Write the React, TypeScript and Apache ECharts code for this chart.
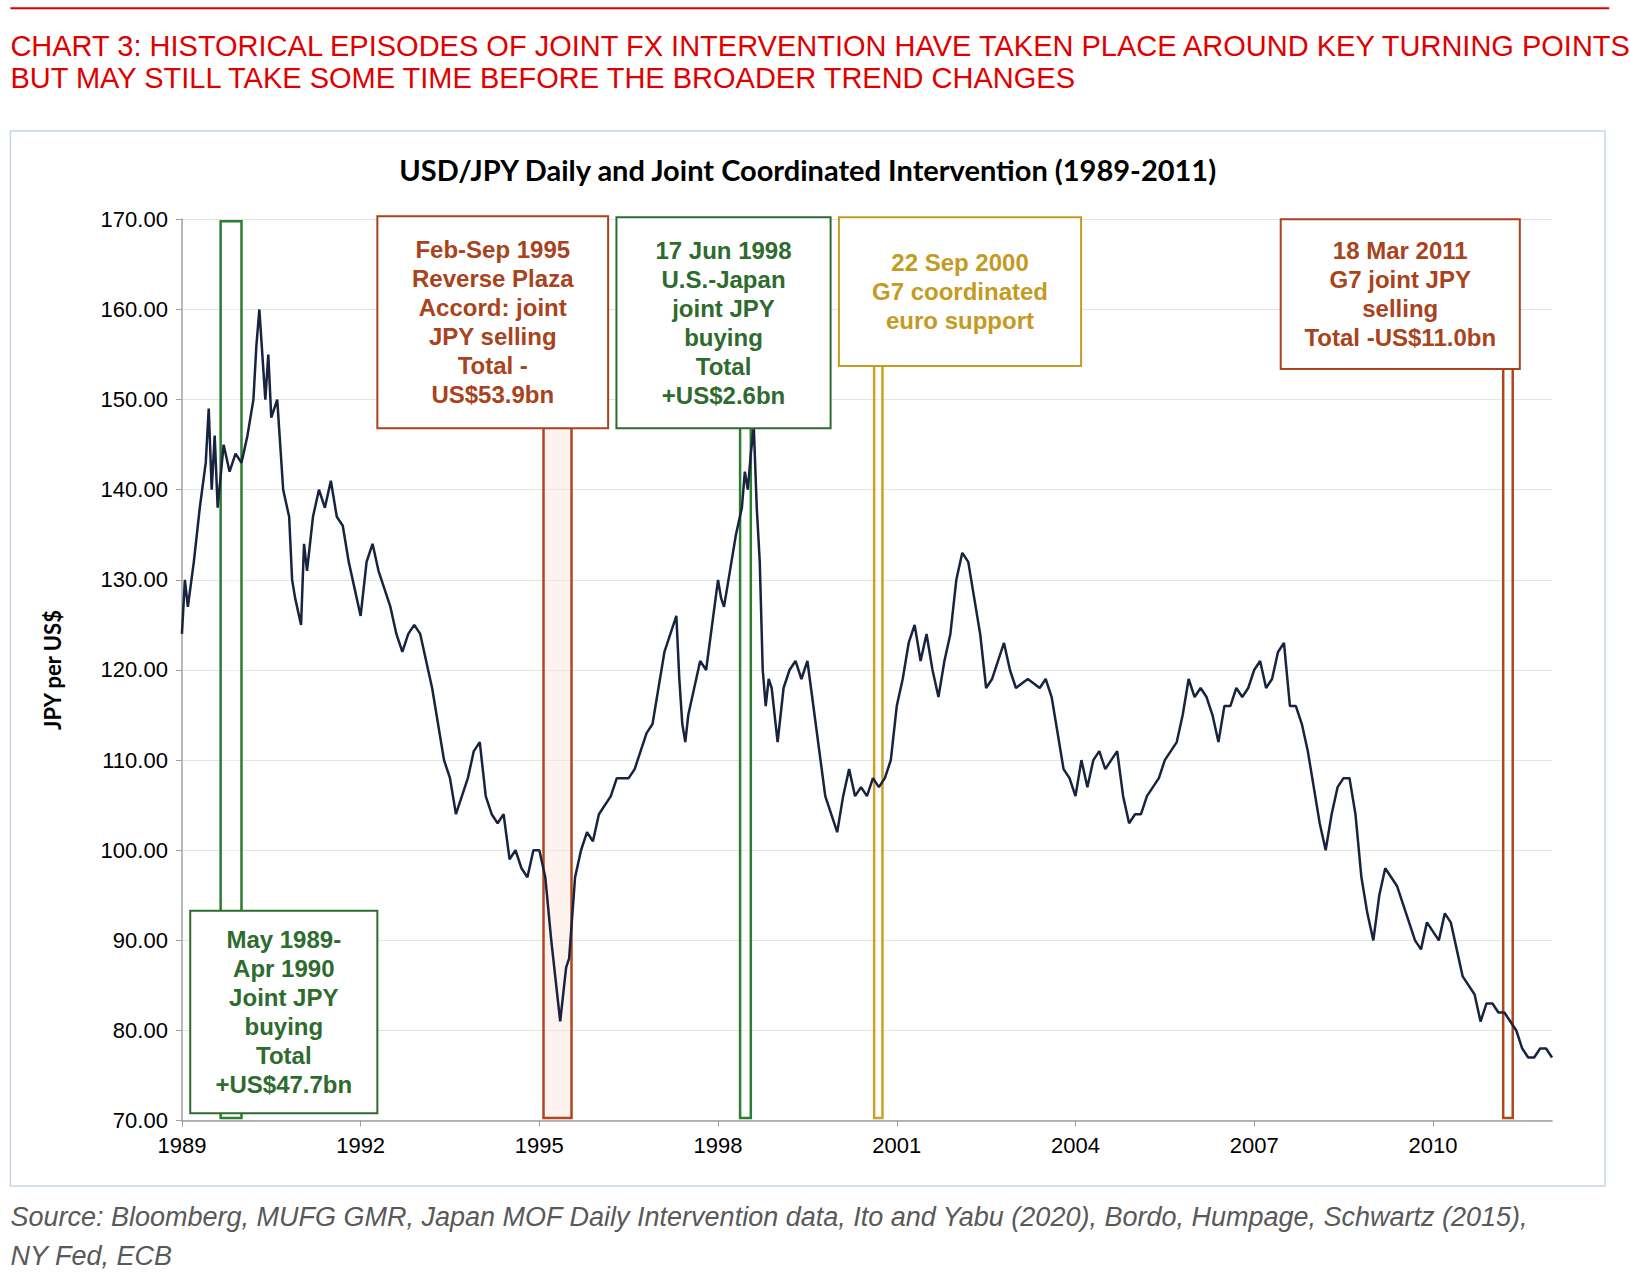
import React, { useEffect, useRef } from 'react';
import * as echarts from 'echarts';

// decimal year, JPY per USD
const years = [
  1989.0, 1989.05, 1989.1, 1989.2, 1989.3, 1989.4, 1989.45, 1989.5, 1989.55, 1989.6, 1989.7, 1989.8, 1989.9,
  1990.0, 1990.1, 1990.2, 1990.25, 1990.3, 1990.35, 1990.4, 1990.45, 1990.5, 1990.6, 1990.7, 1990.8, 1990.85, 1990.9,
  1991.0, 1991.05, 1991.1, 1991.2, 1991.3, 1991.4, 1991.5, 1991.6, 1991.7, 1991.8, 1991.9,
  1992.0, 1992.1, 1992.2, 1992.3, 1992.4, 1992.5, 1992.6, 1992.7, 1992.8, 1992.9,
  1993.0, 1993.2, 1993.4, 1993.5, 1993.6, 1993.7, 1993.8, 1993.9,
  1994.0, 1994.1, 1994.2, 1994.3, 1994.4, 1994.5, 1994.6, 1994.7, 1994.8, 1994.9,
  1995.0, 1995.1, 1995.2, 1995.3, 1995.35, 1995.4, 1995.45, 1995.5, 1995.6, 1995.7, 1995.8, 1995.9,
  1996.0, 1996.2, 1996.3, 1996.5, 1996.6, 1996.7, 1996.8, 1996.9,
  1997.0, 1997.1, 1997.2, 1997.3, 1997.35, 1997.4, 1997.45, 1997.5, 1997.6, 1997.7, 1997.8, 1997.9,
  1998.0, 1998.05, 1998.1, 1998.2, 1998.3, 1998.4, 1998.45, 1998.5, 1998.55, 1998.6, 1998.65, 1998.7, 1998.75, 1998.8, 1998.85, 1998.9,
  1999.0, 1999.1, 1999.2, 1999.3, 1999.4, 1999.5, 1999.6, 1999.7, 1999.8, 1999.9,
  2000.0, 2000.1, 2000.2, 2000.3, 2000.4, 2000.5, 2000.6, 2000.7, 2000.8, 2000.9,
  2001.0, 2001.1, 2001.2, 2001.3, 2001.4, 2001.5, 2001.6, 2001.7, 2001.8, 2001.9,
  2002.0, 2002.1, 2002.2, 2002.3, 2002.4, 2002.5, 2002.6, 2002.7, 2002.8, 2002.9,
  2003.0, 2003.2, 2003.4, 2003.5, 2003.6, 2003.7, 2003.8, 2003.9,
  2004.0, 2004.1, 2004.2, 2004.3, 2004.4, 2004.5, 2004.6, 2004.7, 2004.8, 2004.9,
  2005.0, 2005.1, 2005.2, 2005.3, 2005.4, 2005.5, 2005.6, 2005.7, 2005.8, 2005.9,
  2006.0, 2006.1, 2006.2, 2006.3, 2006.4, 2006.5, 2006.6, 2006.7, 2006.8, 2006.9,
  2007.0, 2007.1, 2007.2, 2007.3, 2007.4, 2007.5, 2007.6, 2007.7, 2007.8, 2007.9,
  2008.0, 2008.1, 2008.2, 2008.3, 2008.4, 2008.5, 2008.6, 2008.7, 2008.8, 2008.9,
  2009.0, 2009.1, 2009.2, 2009.3, 2009.4, 2009.5, 2009.6, 2009.7, 2009.8, 2009.9,
  2010.0, 2010.1, 2010.2, 2010.3, 2010.4, 2010.5, 2010.6, 2010.7, 2010.8, 2010.9,
  2011.0, 2011.1, 2011.2, 2011.3, 2011.4, 2011.5, 2011.6, 2011.7, 2011.8, 2011.9, 2012.0,
];
const usdjpy = [
  124, 130, 127, 132, 138, 143, 149, 140, 146, 138, 145, 142, 144,
  143, 146, 150, 156, 160, 155, 150, 155, 148, 150, 140, 137, 130, 128,
  125, 134, 131, 137, 140, 138, 141, 137, 136, 132, 129,
  126, 132, 134, 131, 129, 127, 124, 122, 124, 125,
  124, 118, 110, 108, 104, 106, 108, 111,
  112, 106, 104, 103, 104, 99, 100, 98, 97, 100,
  100, 97, 90, 84, 81, 84, 87, 88, 97, 100, 102, 101,
  104, 106, 108, 108, 109, 111, 113, 114,
  118, 122, 124, 126, 119, 114, 112, 115, 118, 121, 120, 125,
  130, 128, 127, 131, 135, 138, 142, 140, 144, 147, 138, 132, 120, 116, 119, 118,
  112, 118, 120, 121, 119, 121, 116, 111, 106, 104,
  102, 106, 109, 106, 107, 106, 108, 107, 108, 110,
  116, 119, 123, 125, 121, 124, 120, 117, 121, 124,
  130, 133, 132, 128, 124, 118, 119, 121, 123, 120,
  118, 119, 118, 119, 117, 113, 109, 108,
  106, 110, 107, 110, 111, 109, 110, 111, 106, 103,
  104, 104, 106, 107, 108, 110, 111, 112, 115, 119,
  117, 118, 117, 115, 112, 116, 116, 118, 117, 118,
  120, 121, 118, 119, 122, 123, 116, 116, 114, 111,
  107, 103, 100, 104, 107, 108, 108, 104, 97, 93,
  90, 95, 98, 97, 96, 94, 92, 90, 89, 92,
  91, 90, 93, 92, 89, 86, 85, 84, 81, 83,
  83, 82, 82, 81, 80, 78, 77, 77, 78, 78, 77,
];
const yTicks = [70, 80, 90, 100, 110, 120, 130, 140, 150, 160, 170];

// intervention windows [start, end, border, fill]
const episodes: [number, number, string, string][] = [
  [1989.65, 1990.0, '#2e7d32', 'rgba(255,255,255,0.35)'],
  [1995.07, 1995.54, '#b0461e', 'rgba(253,232,226,0.55)'],
  [1998.37, 1998.55, '#2e7d32', 'rgba(255,255,255,0.35)'],
  [2000.62, 2000.76, '#c9a227', 'rgba(255,255,255,0.35)'],
  [2011.18, 2011.34, '#b0461e', 'rgba(255,255,255,0.35)'],
];

const notes: { x: number; y: number; w: number; h: number; color: string; lines: string[] }[] = [
  { x: 363, y: 208, w: 222, h: 204, color: '#a8431c', lines: ['Feb-Sep 1995', 'Reverse Plaza', 'Accord: joint', 'JPY selling', 'Total -', 'US$53.9bn'] },
  { x: 593, y: 209, w: 206, h: 203, color: '#2e6b2e', lines: ['17 Jun 1998', 'U.S.-Japan', 'joint JPY', 'buying', 'Total', '+US$2.6bn'] },
  { x: 807, y: 209, w: 233, h: 143, color: '#c49a22', lines: ['22 Sep 2000', 'G7 coordinated', 'euro support'] },
  { x: 1232, y: 211, w: 230, h: 144, color: '#a8431c', lines: ['18 Mar 2011', 'G7 joint JPY', 'selling', 'Total -US$11.0bn'] },
  { x: 183, y: 876, w: 180, h: 195, color: '#2e6b2e', lines: ['May 1989-', 'Apr 1990', 'Joint JPY', 'buying', 'Total', '+US$47.7bn'] },
];

// layout positions above were measured on a 1568px-wide view
const S = 1630 / 1568;

const App: React.FC = () => {
  const chartRef = useRef<HTMLDivElement>(null);

  useEffect(() => {
    document.body.style.margin = '0';
    if (!chartRef.current) return;
    const chart = echarts.init(chartRef.current, undefined, { renderer: 'svg' });

    const graphics: any[] = [
      { type: 'line', shape: { x1: 10 * S, y1: 8 * S, x2: 1548 * S, y2: 8 * S }, style: { stroke: '#e00000', lineWidth: 2 } },
      {
        type: 'text', left: 10 * S, top: 29 * S,
        style: {
          text: 'CHART 3: HISTORICAL EPISODES OF JOINT FX INTERVENTION HAVE TAKEN PLACE AROUND KEY TURNING POINTS,\nBUT MAY STILL TAKE SOME TIME BEFORE THE BROADER TREND CHANGES',
          fill: '#e00000', font: '29px "Liberation Sans", Arial, sans-serif', lineHeight: 32,
        },
      },
      { type: 'rect', shape: { x: 10 * S, y: 126 * S, width: 1534 * S, height: 1015 * S }, style: { fill: 'none', stroke: '#c8d6e6', lineWidth: 1.5 }, z: -1 },
      {
        type: 'text', x: 777 * S, y: 163 * S,
        style: { text: 'USD/JPY Daily and Joint Coordinated Intervention (1989-2011)', fill: '#000', font: 'bold 29px Lato, sans-serif', align: 'center', verticalAlign: 'middle' },
      },
      {
        type: 'text', left: 10 * S, top: 1152 * S,
        style: {
          text: 'Source: Bloomberg, MUFG GMR, Japan MOF Daily Intervention data, Ito and Yabu (2020), Bordo, Humpage, Schwartz (2015),\nNY Fed, ECB',
          fill: '#595959', font: 'italic 27px "Liberation Sans", Arial, sans-serif', lineHeight: 39,
        },
      },
    ];
    notes.forEach((n) => {
      graphics.push({
        type: 'rect', z: 10, shape: { x: n.x * S, y: n.y * S, width: n.w * S, height: n.h * S },
        style: { fill: '#fff', stroke: n.color, lineWidth: 2 },
      });
      graphics.push({
        type: 'text', z: 11, x: (n.x + n.w / 2) * S, y: (n.y + n.h / 2) * S,
        style: {
          text: n.lines.join('\n'), fill: n.color, font: 'bold 24px "Liberation Sans", Arial, sans-serif',
          lineHeight: 29, align: 'center', verticalAlign: 'middle',
        },
      });
    });

    chart.setOption({
      animation: false,
      grid: { left: 175 * S, right: 1630 - 1493 * S, top: 211 * S, bottom: 1275 - 1078 * S },
      xAxis: {
        type: 'value', min: 1989, max: 2012, interval: 3,
        axisLine: { lineStyle: { color: '#a0a0a0', width: 1.5 } },
        axisTick: { show: true, length: 6, lineStyle: { color: '#a0a0a0' } },
        axisLabel: { color: '#000', fontSize: 22, fontFamily: 'Liberation Sans', margin: 14, formatter: (v: number) => String(v), showMaxLabel: false },
        splitLine: { show: false },
      },
      yAxis: {
        type: 'value', min: yTicks[0], max: yTicks[yTicks.length - 1], interval: 10,
        name: 'JPY per US$', nameLocation: 'middle', nameGap: 118,
        nameTextStyle: { color: '#000', fontSize: 22, fontWeight: 'bold', fontFamily: 'Lato' },
        axisLine: { show: true, lineStyle: { color: '#a0a0a0', width: 1.5 } },
        axisTick: { show: true, length: 6, lineStyle: { color: '#a0a0a0' } },
        axisLabel: { color: '#000', fontSize: 22, fontFamily: 'Liberation Sans', margin: 14, formatter: (v: number) => v.toFixed(2) },
        splitLine: { lineStyle: { color: '#e3e3e3' } },
      },
      graphic: graphics,
      series: [
        {
          type: 'line', data: years.map((y, i) => [y, usdjpy[i]]), showSymbol: false,
          lineStyle: { color: '#17233f', width: 2.5 }, z: 2,
        },
        {
          type: 'line', data: [], z: 5, silent: true,
          markArea: {
            silent: true,
            data: episodes.map(([a, b, c, f]) => [
              { xAxis: a, yAxis: 70.3, itemStyle: { color: f, borderColor: c, borderWidth: 2.5 } },
              { xAxis: b, yAxis: 169.8 },
            ]),
          },
        },
      ],
    });

    return () => chart.dispose();
  }, []);

  return <div ref={chartRef} style={{ width: 1630, height: 1275 }} />;
};

export default App;
